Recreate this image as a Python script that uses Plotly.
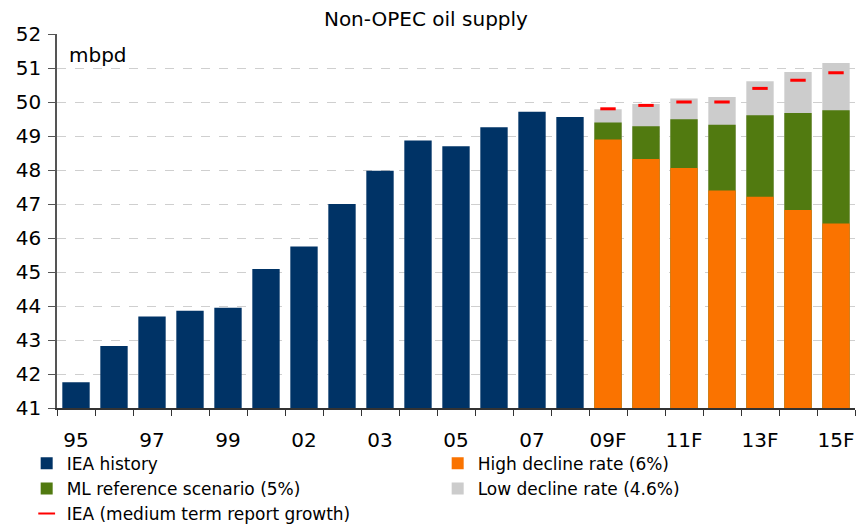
import plotly.graph_objects as go

# categories (one per bar) and shown tick labels
years = ["95", "96", "97", "98", "99", "00", "01", "02", "03", "04", "05", "06", "07", "08",
         "09F", "10F", "11F", "12F", "13F", "14F", "15F"]
tick_labels = ["95", "", "97", "", "99", "", "02", "", "03", "", "05", "", "07", "",
               "09F", "", "11F", "", "13F", "", "15F"]

hist_years = years[:14]
iea_history = [41.76, 42.82, 43.69, 43.86, 43.95, 45.09, 45.75, 47.0, 47.98, 48.87,
               48.70, 49.26, 49.71, 49.56]

fc_years = years[14:]
high_decline = [48.90, 48.32, 48.06, 47.40, 47.21, 46.82, 46.43]   # top of orange
ml_reference = [49.40, 49.29, 49.49, 49.33, 49.61, 49.68, 49.76]   # top of green
low_decline = [49.79, 49.94, 50.10, 50.15, 50.61, 50.88, 51.15]    # top of grey
iea_medium = [49.80, 49.90, 50.00, 50.00, 50.40, 50.64, 50.86]     # red dash

NAVY = "#003366"
ORANGE = "#FA7300"
GREEN = "#517A10"
GREY = "#CCCCCC"
RED = "#FF0000"
FONT = "DejaVu Sans"

fig = go.Figure()

# levels are drawn on top of each other (overlay), tallest first
fig.add_trace(go.Bar(x=hist_years, y=iea_history, name="IEA history",
                     marker_color=NAVY, legendrank=1))
fig.add_trace(go.Bar(x=fc_years, y=low_decline, name="Low decline rate (4.6%)",
                     marker_color=GREY, legendrank=4))
fig.add_trace(go.Bar(x=fc_years, y=ml_reference, name="ML reference scenario (5%)",
                     marker_color=GREEN, legendrank=3))
fig.add_trace(go.Bar(x=fc_years, y=high_decline, name="High decline rate (6%)",
                     marker_color=ORANGE, legendrank=2))
fig.add_trace(go.Scatter(x=fc_years, y=iea_medium, mode="markers",
                         name="IEA (medium term report growth)",
                         marker=dict(symbol="line-ew", size=11,
                                     line=dict(color=RED, width=3)),
                         legendrank=5))

fig.update_traces(marker_line_width=0, selector=dict(type="bar"))

fig.update_layout(
    width=857,
    height=524,
    barmode="overlay",
    bargap=0.28,
    plot_bgcolor="white",
    paper_bgcolor="white",
    margin=dict(l=57, r=2, t=34, b=116, autoexpand=False),
    font=dict(family=FONT, size=20, color="black"),
    title=dict(text="Non-OPEC oil supply", x=0.497, xref="container", xanchor="center",
               y=0.963, yref="container", yanchor="middle",
               font=dict(family=FONT, size=20, color="black")),
    legend=dict(
        orientation="h",
        x=-0.038,
        xanchor="left",
        y=-0.101,
        yanchor="top",
        entrywidth=366,
        entrywidthmode="pixels",
        traceorder="normal",
        tracegroupgap=0,
        font=dict(family=FONT, size=17, color="black"),
        itemsizing="constant",
        bgcolor="rgba(0,0,0,0)",
    ),
    showlegend=True,
)

fig.update_xaxes(
    type="category",
    categoryorder="array",
    categoryarray=years,
    range=[-0.5, len(years) - 0.5],
    tickmode="array",
    tickvals=years,
    ticktext=tick_labels,
    tickson="boundaries",
    tickangle=0,
    ticks="outside",
    ticklen=6,
    tickcolor="#333333",
    showline=True,
    linecolor="#333333",
    linewidth=1.5,
    showgrid=False,
    ticklabelstandoff=13,
    tickfont=dict(family=FONT, size=20, color="black"),
)

fig.update_yaxes(
    range=[41, 52],
    dtick=1,
    ticks="outside",
    ticklen=7,
    tickcolor="#555555",
    showline=True,
    linecolor="#555555",
    linewidth=1.5,
    showgrid=True,
    gridcolor="#CFCFCF",
    griddash="dash",
    zeroline=False,
    ticklabelstandoff=3,
    tickfont=dict(family=FONT, size=20, color="black"),
)

fig.add_annotation(text="mbpd", xref="paper", yref="paper", x=0.013, y=0.944,
                   xanchor="left", yanchor="middle", showarrow=False,
                   font=dict(family=FONT, size=20, color="black"))

# drop the default page margin so the 857x524 figure fills the window exactly
fig.write_html(
    "out.html",
    config={"displayModeBar": False},
    post_script="document.body.style.margin='0';document.body.style.overflow='hidden';",
)
